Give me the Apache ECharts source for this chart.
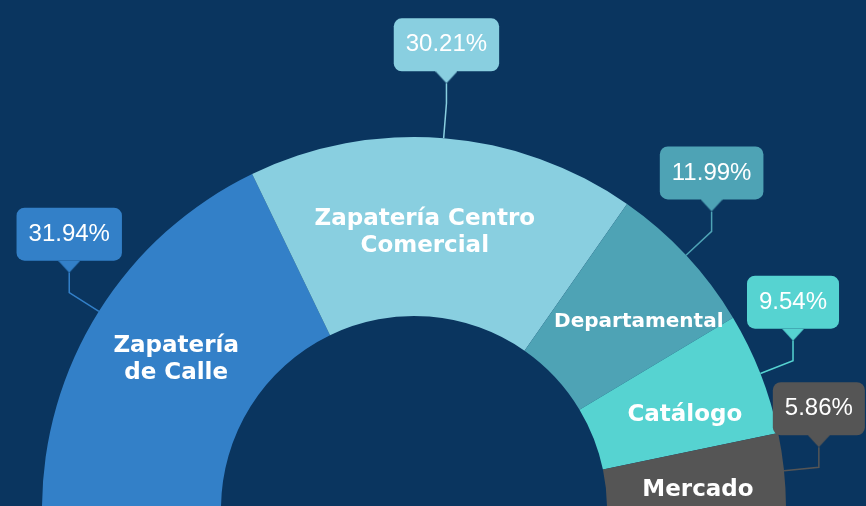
<!DOCTYPE html>
<html><head><meta charset="utf-8">
<script src="https://cdn.jsdelivr.net/npm/echarts@6/dist/echarts.min.js"></script>
<style>html,body{margin:0;padding:0;background:#0a355f}#c{width:866px;height:506px}</style>
</head><body><div id="c"></div>
<script>
// ---- data ----
const categories = ['Zapatería de Calle', 'Zapatería Centro Comercial', 'Departamental', 'Catálogo', 'Mercado'];
const insideLabels = ['Zapatería\nde Calle', 'Zapatería Centro\nComercial', 'Departamental', 'Catálogo', 'Mercado'];
const values = [31.94, 30.21, 11.99, 9.54, 5.86];
const colors = ['#3380c8', '#89cfe0', '#4ea3b5', '#56d3d1', '#555555'];

// ---- layout / style ----
const CENTER = [414, 509];
const RADIUS = [193, 372];
const LINE1 = 35, LINE2 = 20;
const INSIDE_NUDGE = [[4, 2], [-12, 8], [16, 8], [5, 10], [0, 10]];
const total = values.reduce((a, b) => a + b, 0);

function triangle(color) {
  const c = document.createElement('canvas');
  c.width = 22; c.height = 12;
  const g = c.getContext('2d');
  g.fillStyle = color;
  g.beginPath(); g.moveTo(0, 0); g.lineTo(22, 0); g.lineTo(11, 12); g.closePath(); g.fill();
  return c;
}

const hiddenItem = {
  name: '', value: total,
  itemStyle: { color: 'rgba(0,0,0,0)' },
  label: { show: false }, labelLine: { show: false }
};

const innerData = categories.map((name, i) => ({
  name, value: values[i],
  itemStyle: { color: colors[i] },
  label: {
    formatter: insideLabels[i],
    offset: INSIDE_NUDGE[i],
    fontSize: name === 'Departamental' ? 20 : 23
  }
})).concat([hiddenItem]);

const outerData = categories.map((name, i) => ({
  name, value: values[i],
  itemStyle: { color: 'rgba(0,0,0,0)' },
  label: {
    formatter: '{b|' + values[i].toFixed(2) + '%}\n{t| }',
    rich: {
      b: {
        color: '#ffffff', fontFamily: 'Liberation Sans', fontSize: 24, height: 25, lineHeight: 53,
        padding: [14, 12, 14, 12], borderRadius: 8, backgroundColor: colors[i]
      },
      t: { width: 22, height: 12, lineHeight: 12, fontSize: 8, backgroundColor: { image: triangle(colors[i]) } }
    }
  },
  labelLine: { lineStyle: { color: colors[i], width: 1.5 } }
})).concat([hiddenItem]);

const chart = echarts.init(document.getElementById('c'), null, { renderer: 'canvas' });
chart.setOption({
  backgroundColor: '#0a355f',
  animation: false,
  series: [
    {
      type: 'pie', center: CENTER, radius: RADIUS, startAngle: 180, clockwise: true,
      silent: true, avoidLabelOverlap: false,
      label: {
        show: true, position: 'inside', color: '#ffffff',
        fontFamily: 'DejaVu Sans', fontWeight: 'bold', lineHeight: 27
      },
      labelLine: { show: false },
      emphasis: { disabled: true },
      data: innerData
    },
    {
      type: 'pie', center: CENTER, radius: RADIUS, startAngle: 180, clockwise: true,
      silent: true, avoidLabelOverlap: false,
      label: { show: true, position: 'outside' },
      labelLine: { show: true, length: LINE1, length2: 0 },
      emphasis: { disabled: true },
      labelLayout: function (p) {
        if (p.dataIndex >= values.length) return {};
        let p0;
        if (p.labelLinePoints && p.labelLinePoints.length) {
          p0 = p.labelLinePoints[0];
        } else {
          let before = 0;
          for (let k = 0; k < p.dataIndex; k++) before += values[k];
          const ang = Math.PI - (before + values[p.dataIndex] / 2) / total * Math.PI;
          p0 = [CENTER[0] + RADIUS[1] * Math.cos(ang), CENTER[1] - RADIUS[1] * Math.sin(ang)];
        }
        const dx = p0[0] - CENTER[0], dy = p0[1] - CENTER[1];
        const len = Math.hypot(dx, dy);
        const p1 = [p0[0] + dx / len * LINE1, p0[1] + dy / len * LINE1];
        const p2 = [p1[0], p1[1] - LINE2];
        return { x: p2[0], y: p2[1], align: 'center', verticalAlign: 'bottom', labelLinePoints: [p0, p1, p2] };
      },
      data: outerData
    }
  ]
});
</script>
</body></html>
